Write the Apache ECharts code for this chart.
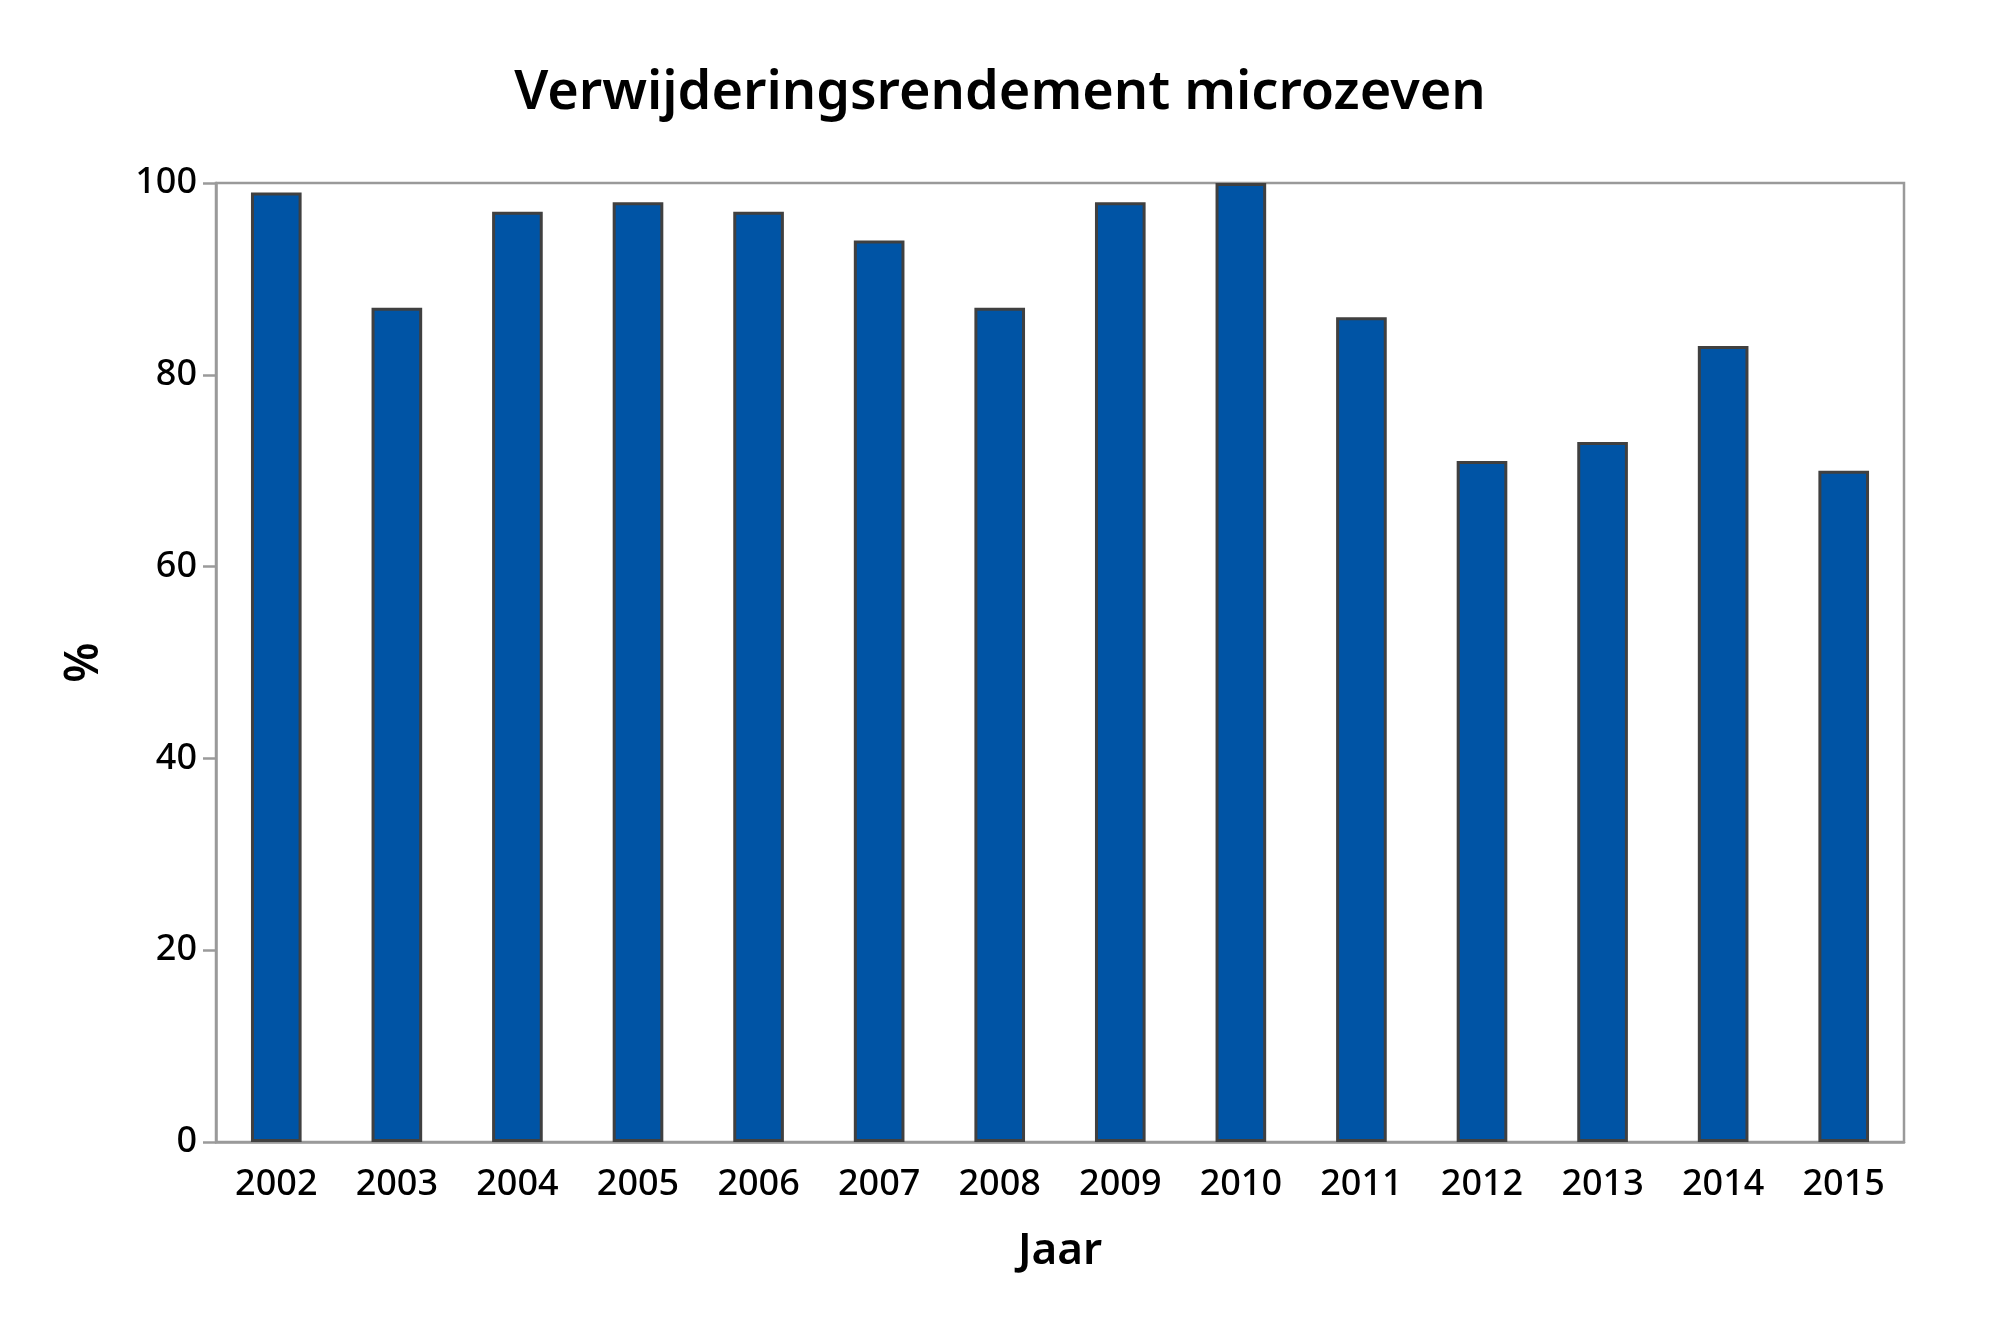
<!DOCTYPE html>
<html>
<head>
<meta charset="utf-8">
<script src="https://cdn.jsdelivr.net/npm/echarts@6/dist/echarts.min.js"></script>
<style>
  html, body { margin: 0; padding: 0; background: #fff; }
  #chart { width: 2000px; height: 1333px; }
</style>
</head>
<body>
<div id="chart"></div>
<script>
// jaren en rendement (%)
const years = ['2002', '2003', '2004', '2005', '2006', '2007', '2008', '2009', '2010', '2011', '2012', '2013', '2014', '2015'];
const rendement = [99, 87, 97, 98, 97, 94, 87, 98, 100, 86, 71, 73, 83, 70];
const yTicks = [0, 20, 40, 60, 80, 100];

const font = '"Noto Sans", "Open Sans", sans-serif';
const axisGrey = '#9a9a9a';

let chart = echarts.init(document.getElementById('chart'));

let option = {
  backgroundColor: '#fff',
  animation: false,
  title: {
    text: 'Verwijderingsrendement microzeven',
    left: 'center',
    top: 62,
    textStyle: { fontFamily: font, fontSize: 54, fontWeight: 600, color: '#000' }
  },
  grid: {
    left: 216,
    right: 96,
    top: 183,
    bottom: 191,
    show: true,
    borderColor: axisGrey,
    borderWidth: 2.5,
    containLabel: false
  },
  xAxis: {
    type: 'category',
    data: years,
    name: 'Jaar',
    nameLocation: 'middle',
    nameGap: 87,
    nameTextStyle: { fontFamily: font, fontSize: 44, fontWeight: 600, color: '#000' },
    axisLine: { lineStyle: { color: axisGrey, width: 2.5 } },
    axisTick: { alignWithLabel: true, length: 14, lineStyle: { color: axisGrey, width: 2.5 } },
    axisLabel: { fontFamily: font, fontSize: 36, fontWeight: 500, color: '#000', margin: 25 }
  },
  yAxis: {
    type: 'value',
    min: 0,
    max: 100,
    interval: 20,
    name: '%',
    nameLocation: 'middle',
    nameGap: 108,
    nameRotate: 90,
    nameTextStyle: { fontFamily: font, fontSize: 46, fontWeight: 600, color: '#000' },
    axisLine: { show: true, lineStyle: { color: axisGrey, width: 2.5 } },
    axisTick: { show: true, length: 13, lineStyle: { color: axisGrey, width: 2.5 } },
    axisLabel: {
      fontFamily: font, fontSize: 36, fontWeight: 500, color: '#000', margin: 19,
      formatter: v => yTicks.includes(v) ? String(v) : ''
    },
    splitLine: { show: false }
  },
  series: [{
    type: 'bar',
    data: rendement,
    barWidth: '42%',
    itemStyle: { color: '#0054a5', borderColor: '#404040', borderWidth: 3 }
  }]
};

chart.setOption(option);
</script>
</body>
</html>
